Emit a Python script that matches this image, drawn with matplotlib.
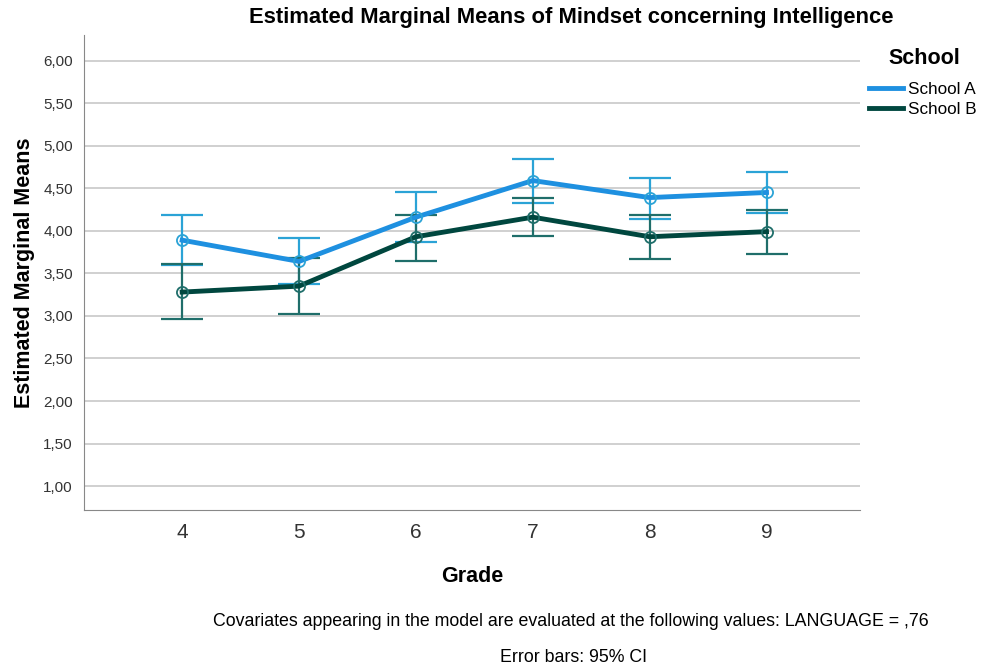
import matplotlib
matplotlib.use("Agg")
import matplotlib.pyplot as plt
from matplotlib.ticker import FuncFormatter

plt.rcParams['font.family'] = ['Liberation Sans', 'DejaVu Sans']

grades = [4, 5, 6, 7, 8, 9]
school_a = [3.89, 3.64, 4.16, 4.59, 4.39, 4.45]
school_a_lo = [3.60, 3.37, 3.87, 4.33, 4.14, 4.21]
school_a_hi = [4.18, 3.91, 4.45, 4.84, 4.62, 4.69]
school_b = [3.28, 3.35, 3.93, 4.16, 3.93, 3.99]
school_b_lo = [2.96, 3.02, 3.65, 3.94, 3.67, 3.73]
school_b_hi = [3.61, 3.68, 4.19, 4.39, 4.18, 4.25]
yticks = [1.0, 1.5, 2.0, 2.5, 3.0, 3.5, 4.0, 4.5, 5.0, 5.5, 6.0]

fig = plt.figure(figsize=(9.85, 6.68), dpi=100)
ax = fig.add_axes([84/985, 1-510/668, (860-84)/985, (510-35)/668])

col_a = '#1E90E0'
col_a_err = '#2BA3D6'
col_b = '#00473F'
col_b_err = '#1F6E6A'

handles = []
for y, lo, hi, c, ce, lab in [
        (school_a, school_a_lo, school_a_hi, col_a, col_a_err, 'School A'),
        (school_b, school_b_lo, school_b_hi, col_b, col_b_err, 'School B')]:
    err = [[m - l for m, l in zip(y, lo)], [h - m for m, h in zip(y, hi)]]
    ax.errorbar(grades, y, yerr=err, fmt='none', ecolor=ce, elinewidth=1.6,
                capsize=15, capthick=1.6, zorder=2)
    ln, = ax.plot(grades, y, color=c, lw=3.5, zorder=3, label=lab)
    ax.plot(grades, y, 'o', ms=8, mfc='none', mec=ce, mew=1.3, zorder=4)
    handles.append(ln)

ax.set_xlim(3.16, 9.8)
ax.set_ylim(0.72, 6.3)
ax.set_xticks(grades)
ax.set_yticks(yticks)
ax.yaxis.set_major_formatter(FuncFormatter(lambda v, p: f"{v:.2f}".replace('.', ',')))
ax.grid(axis='y', color='#C8C8C8', lw=1.2)
ax.set_axisbelow(True)
for s in ['top', 'right']:
    ax.spines[s].set_visible(False)
for s in ['left', 'bottom']:
    ax.spines[s].set_color('#888888')
ax.tick_params(axis='x', labelsize=15, length=0, pad=9, colors='#333333')
ax.tick_params(axis='y', labelsize=11, length=0, pad=8, colors='#333333')

ax.set_ylabel('Estimated Marginal Means', fontsize=15.5, fontweight='bold', labelpad=6)
ax.set_xlabel('Grade', fontsize=15.5, fontweight='bold', labelpad=18)
fig.text(571/985, 1-18/668, 'Estimated Marginal Means of Mindset concerning Intelligence',
         ha='center', va='center', fontsize=15.8, fontweight='bold')

fig.legend(handles=handles, labels=['School A', 'School B'],
           loc='upper left', bbox_to_anchor=(869/985, 1-82/668), frameon=False,
           fontsize=12.3, handlelength=2.0, handletextpad=0.3, labelspacing=0.3,
           borderaxespad=0, borderpad=0)
fig.text(924/985, 1-58/668, 'School', ha='center', va='center', fontsize=15.5, fontweight='bold')

fig.text(571/985, 1-621/668, 'Covariates appearing in the model are evaluated at the following values: LANGUAGE = ,76',
         ha='center', va='center', fontsize=12.8)
fig.text(574/985, 1-658/668, 'Error bars: 95% CI', ha='center', va='center', fontsize=12.8)

fig.savefig('out.png', dpi=100)
